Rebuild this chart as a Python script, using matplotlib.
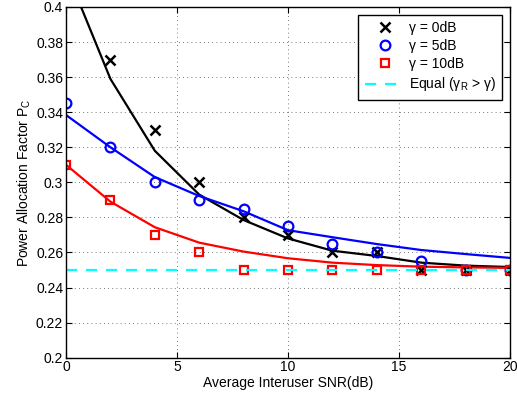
import matplotlib
matplotlib.use('Agg')
import matplotlib.pyplot as plt

plt.rcParams['font.family'] = ['Liberation Sans', 'DejaVu Sans']
plt.rcParams['mathtext.fontset'] = 'custom'
plt.rcParams['mathtext.rm'] = 'Liberation Sans'
plt.rcParams['mathtext.it'] = 'Liberation Sans'

# curves (theory)
snr = [0, 2, 4, 6, 8, 10, 12, 14, 16, 18, 20]
curve_0db = [0.421, 0.359, 0.318, 0.293, 0.2785, 0.268, 0.261, 0.258, 0.2542, 0.2525, 0.2517]
curve_5db = [0.3384, 0.32, 0.303, 0.2922, 0.2835, 0.2727, 0.2687, 0.2648, 0.2614, 0.2591, 0.2569]
curve_10db = [0.31, 0.289, 0.2744, 0.2656, 0.2605, 0.2567, 0.2542, 0.2528, 0.2519, 0.2515, 0.2512]

# simulated points
snr_0db = [2, 4, 6, 8, 10, 12, 14, 16, 18, 20]
sim_0db = [0.37, 0.33, 0.30, 0.28, 0.27, 0.26, 0.26, 0.25, 0.25, 0.25]
sim_5db = [0.345, 0.32, 0.30, 0.29, 0.285, 0.275, 0.265, 0.26, 0.255, 0.25, 0.25]
sim_10db = [0.31, 0.29, 0.27, 0.26, 0.25, 0.25, 0.25, 0.25, 0.25, 0.25, 0.25]
equal_x = [0, 20]
equal_y = [0.25, 0.25]

fig = plt.figure(figsize=(5.17, 4.0), dpi=100)
ax = fig.add_axes([0.1277, 0.1058, 0.8588, 0.8767])

ax.plot(snr, curve_0db, color='black', lw=1.6)
ax.plot(snr, curve_5db, color='blue', lw=1.6)
ax.plot(snr, curve_10db, color='red', lw=1.6)

ax.plot(snr_0db, sim_0db, 'x', color='black', ms=7, mew=1.8, ls='none', label='γ = 0dB')
ax.plot(snr, sim_5db, 'o', color='blue', mfc='none', ms=7, mew=1.6, ls='none', label='γ = 5dB')
ax.plot(snr, sim_10db, 's', color='red', mfc='none', ms=6, mew=1.6, ls='none', label='γ = 10dB')
ax.plot(equal_x, equal_y, '--', color='cyan', lw=1.6, dashes=(5, 4), label='Equal (γ$_R$ > γ)')

ax.set_xlim(0, 20)
ax.set_ylim(0.2, 0.4)
ax.set_xticks([0, 5, 10, 15, 20])
ax.set_yticks([0.2 + 0.02 * i for i in range(11)])
ax.set_yticklabels(['0.2', '0.22', '0.24', '0.26', '0.28', '0.3', '0.32', '0.34', '0.36', '0.38', '0.4'])
ax.tick_params(direction='in', top=True, right=True, labelsize=10, length=4, pad=2)
ax.grid(True, ls=(0, (1, 4)), color='black', lw=0.6, alpha=0.7)
for s in ax.spines.values():
    s.set_linewidth(1.0)

ax.set_xlabel('Average Interuser SNR(dB)', fontsize=10, labelpad=1)
ax.set_ylabel('Power Allocation Factor P$_C$', fontsize=10, labelpad=2)

leg = ax.legend(loc='upper right', fontsize=10, handlelength=2.9, fancybox=False,
                framealpha=1, edgecolor='black', borderaxespad=0.55, labelspacing=0.3,
                handletextpad=0.3, borderpad=0.45)
leg.get_frame().set_linewidth(1.0)

fig.savefig('out.png', dpi=100)
